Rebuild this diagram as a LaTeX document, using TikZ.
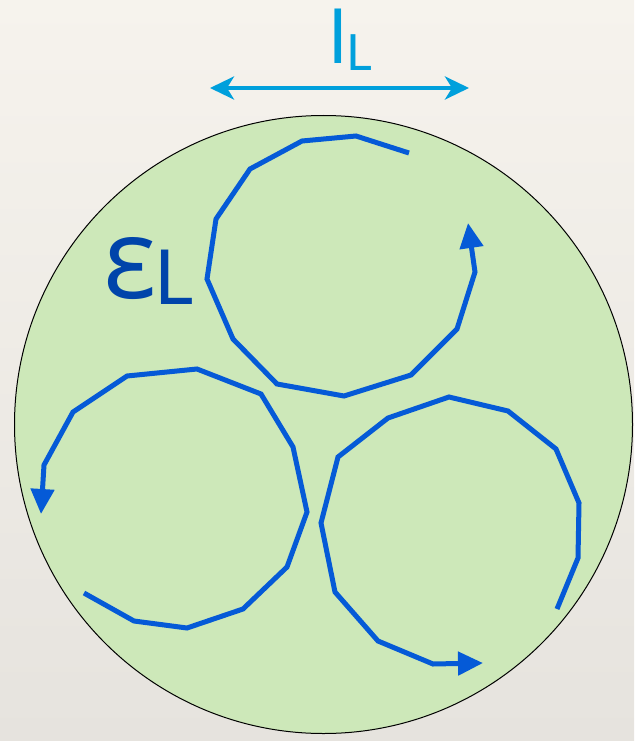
\documentclass[tikz,border=0pt]{standalone}
\usepackage{fontspec}
\setmainfont{Lato}
\newfontfamily\grk{Open Sans}
\usetikzlibrary{arrows.meta}
\definecolor{paperA}{RGB}{246,243,237}
\definecolor{paperB}{RGB}{230,227,222}
\definecolor{cellgreen}{RGB}{205,232,185}
\definecolor{loopblue}{RGB}{5,90,215}
\definecolor{lcyan}{RGB}{0,160,220}
\definecolor{epsblue}{RGB}{0,68,170}
\tikzset{
  loopline/.style={draw=loopblue, line width=5pt, line join=miter, -{Triangle[length=25pt,width=23pt]}},
  openline/.style={draw=loopblue, line width=5pt, line join=miter},
  scalearrow/.style={draw=lcyan, line width=4pt, {Stealth[length=24pt,width=23pt,inset=7pt]}-{Stealth[length=24pt,width=23pt,inset=7pt]}},
  lab/.style={inner sep=0pt, outer sep=0pt, anchor=base west}
}
\begin{document}
\begin{tikzpicture}[x=1pt,y=-1pt]
\useasboundingbox (0,0) rectangle (634,741);
\shade[top color=paperA, bottom color=paperB] (0,0) rectangle (634,741);
% big cell
\draw[fill=cellgreen, line width=1pt] (323.5,424.5) circle[radius=309];
% top loop
\path[loopline] (409,153) -- (356,136) -- (302,141) -- (250,169) -- (216,219) -- (207,279) -- (233,339) -- (277,384) -- (344,396) -- (411,375) -- (457,329) -- (475,272) -- (468,223);
% left loop
\path[loopline] (84,593) -- (134,621) -- (187,628) -- (243,609) -- (287,567) -- (307,512) -- (293,447) -- (261,394) -- (197,369) -- (127,376) -- (73,412) -- (44,465) -- (41,514);
% right loop
\path[loopline] (557,609) -- (578,558) -- (579,503) -- (556,449) -- (508,411) -- (449,397) -- (388,418) -- (338,457) -- (321,523) -- (335,592) -- (378,641) -- (433,664) -- (483,663);
% scale arrow
\coordinate (la) at (210,88);
\coordinate (lb) at (469,88);
\draw[scalearrow] (la) -- (lb);
% labels
\node[lab, text=lcyan, font=\fontsize{74}{80}\selectfont] (ell) at (329,64) {l};
\node[lab, text=lcyan, font=\fontsize{50}{55}\selectfont] (ellsub) at (346,71) {L};
\node[lab, text=epsblue, font=\grk\fontsize{112}{120}\selectfont] (eps) at (103,298) {ε};
\node[lab, text=epsblue, font=\fontsize{76}{80}\selectfont] (epssub) at (154,304) {L};
\end{tikzpicture}
\end{document}
